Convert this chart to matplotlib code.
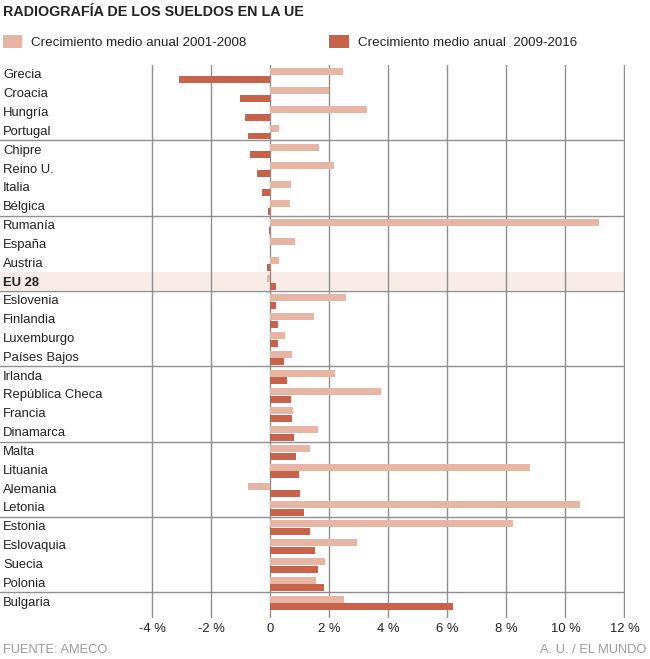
import numpy as np
import matplotlib
matplotlib.use("Agg")
import matplotlib.pyplot as plt
from matplotlib.patches import Rectangle

plt.rcParams['font.family'] = ['Liberation Sans', 'DejaVu Sans']

paises = ["Grecia", "Croacia", "Hungría", "Portugal",
          "Chipre", "Reino U.", "Italia", "Bélgica",
          "Rumanía", "España", "Austria", "EU 28",
          "Eslovenia", "Finlandia", "Luxemburgo", "Países Bajos",
          "Irlanda", "República Checa", "Francia", "Dinamarca",
          "Malta", "Lituania", "Alemania", "Letonia",
          "Estonia", "Eslovaquia", "Suecia", "Polonia",
          "Bulgaria"]
crec_2001_2008 = [2.45, 1.97, 3.27, 0.30,
                  1.65, 2.15, 0.70, 0.67,
                  11.15, 0.82, 0.28, -0.12,
                  2.55, 1.46, 0.50, 0.72,
                  2.20, 3.75, 0.75, 1.60,
                  1.35, 8.78, -0.75, 10.50,
                  8.22, 2.93, 1.85, 1.55,
                  2.48]
crec_2009_2016 = [-3.10, -1.05, -0.88, -0.76,
                  -0.69, -0.46, -0.29, -0.07,
                  -0.05, -0.03, -0.12, 0.19,
                  0.20, 0.25, 0.25, 0.47,
                  0.55, 0.68, 0.72, 0.80,
                  0.87, 0.98, 1.01, 1.14,
                  1.34, 1.50, 1.60, 1.83,
                  6.20]
ticks = [-4, -2, 0, 2, 4, 6, 8, 10, 12]
tick_labels = ["-4 %", "-2 %", "0", "2 %", "4 %", "6 %", "8 %", "10 %", "12 %"]

c_claro = '#e6b5a4'
c_oscuro = '#c6634a'
c_grid = '#8f8f8f'
c_texto = '#222222'

W, H = 650, 659
fig = plt.figure(figsize=(W / 100, H / 100), dpi=100)


def fx(px):
    return px / W


def fy(py):
    return 1 - py / H


# axes: left edge at 0 px, right edge at 12 % gridline
ax = fig.add_axes([0, fy(617.7), fx(624.5), fy(65) - fy(617.7)])
ax.set_xlim(-270.5 / 29.5, 12)
ax.set_ylim(28.85, -0.5)
for s in ax.spines.values():
    s.set_visible(False)

y = np.arange(len(paises))
h = 0.37

# EU 28 highlight band
i_eu = paises.index("EU 28")
ax.axhspan(i_eu - 0.52, i_eu + 0.45, color='#f9ebe6', zorder=0, lw=0)

for t in ticks:
    ax.axvline(t, color=c_grid, lw=1.0, zorder=1)
for k in range(4, len(paises), 4):
    ax.plot([ax.get_xlim()[0], 12], [k - 0.5, k - 0.5], color=c_grid, lw=1.0, zorder=1)

ax.barh(y - 0.14, crec_2001_2008, height=h, color=c_claro, zorder=2)
ax.barh(y + 0.27, crec_2009_2016, height=h, color=c_oscuro, zorder=2)

for i, p in enumerate(paises):
    ax.text(ax.get_xlim()[0] + 3 / 29.5, i + 0.05, p, ha='left', va='center',
            fontsize=9.4, color=c_texto,
            fontweight='bold' if p == "EU 28" else 'normal')

ax.set_yticks([])
ax.set_xticks(ticks)
ax.set_xticklabels(tick_labels, fontsize=9.4, color=c_texto)
ax.tick_params(axis='x', length=0, pad=4)

# title and legend
fig.text(fx(3), fy(12.5), "RADIOGRAFÍA DE LOS SUELDOS EN LA UE", fontsize=10.3,
         fontweight='bold', color=c_texto, ha='left', va='center')
fig.add_artist(Rectangle((fx(2.7), fy(48.3)), fx(19), fy(35) - fy(48.3),
                         transform=fig.transFigure, color=c_claro, lw=0))
fig.text(fx(31.5), fy(42.5), "Crecimiento medio anual 2001-2008", fontsize=9.6,
         color=c_texto, ha='left', va='center')
fig.add_artist(Rectangle((fx(329.3), fy(48.3)), fx(20), fy(35) - fy(48.3),
                         transform=fig.transFigure, color=c_oscuro, lw=0))
fig.text(fx(358.5), fy(42.5), "Crecimiento medio anual  2009-2016", fontsize=9.6,
         color=c_texto, ha='left', va='center')

# footer
fig.text(fx(3), fy(650), "FUENTE: AMECO.", fontsize=9.3, color='#9a9a9a',
         ha='left', va='center')
fig.text(fx(646), fy(650), "A. U. / EL MUNDO", fontsize=9.3, color='#9a9a9a',
         ha='right', va='center')

fig.savefig("out.png", dpi=100)
